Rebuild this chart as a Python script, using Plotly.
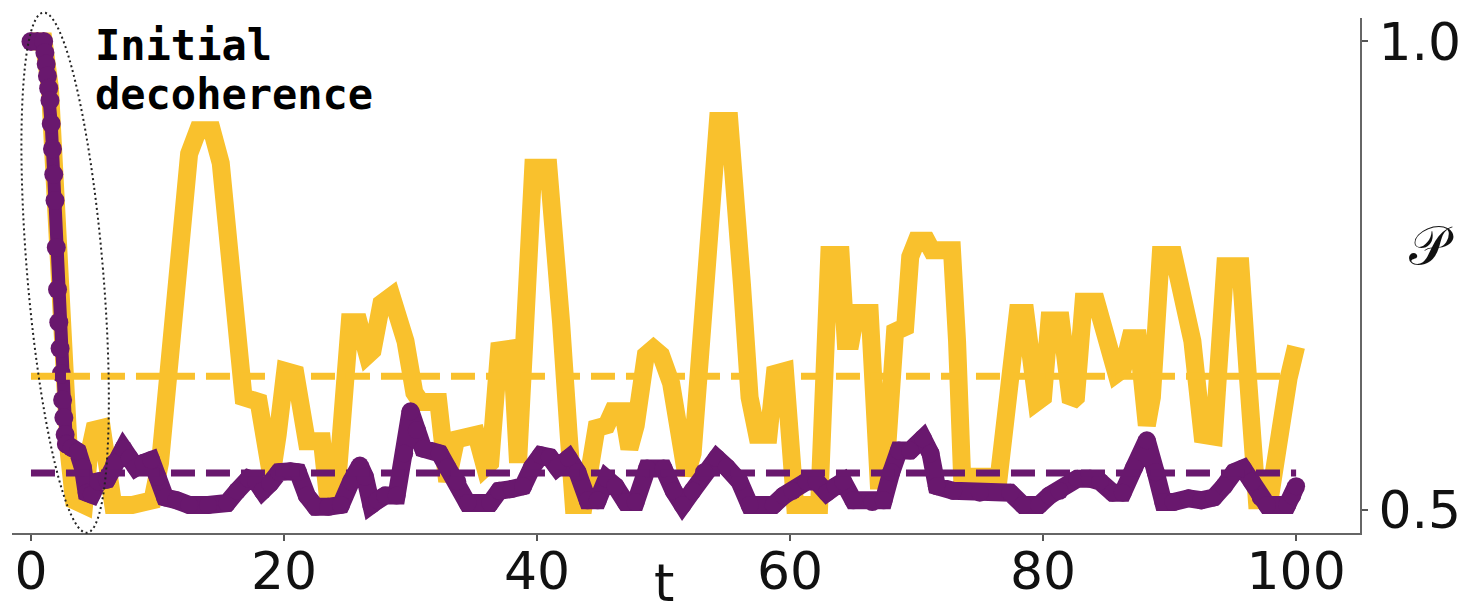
import math
import plotly.graph_objects as go

# ---- data: P(t) for the two traces -------------------------------------
t_gold = [0, 1.0, 1.5, 2.0, 2.5, 3.0, 3.4, 4.2, 4.6, 5.0, 5.6, 6.0, 6.5, 8.0, 9.6,
          10.2, 11.0, 11.8, 12.5, 13.2, 14.3, 15.0, 15.6, 16.2, 16.8, 18.0, 18.6, 19.0,
          19.5, 20.1, 20.9, 21.5, 21.8, 23.0, 23.5, 24.1, 24.6, 25.2, 25.9, 26.6, 27.0,
          27.7, 28.5, 29.0, 29.6, 30.3, 30.8, 32.2, 32.9, 33.6, 35.2, 35.9, 36.3, 37.0,
          38.0, 38.5, 39.0, 39.7, 40.9, 41.4, 41.9, 42.5, 42.9, 43.7, 44.2, 44.7, 45.5,
          46.0, 46.8, 47.3, 47.8, 48.6, 49.2, 49.8, 50.6, 51.2, 51.8, 52.3, 53.2, 54.0,
          54.3, 55.2, 55.6, 56.2, 56.8, 57.4, 58.3, 58.8, 59.6, 60.0, 60.4, 62.3, 62.8,
          63.1, 64.0, 64.4, 64.8, 65.2, 66.3, 66.8, 67.0, 67.5, 67.9, 68.3, 69.1, 69.5,
          70.0, 70.8, 71.2, 72.8, 73.2, 73.6, 76.5, 77.5, 78.0, 78.6, 79.5, 80.0, 80.5,
          81.4, 82.2, 82.6, 83.2, 84.2, 85.0, 85.8, 86.3, 86.9, 87.5, 88.2, 88.6, 89.3,
          90.3, 91.2, 91.8, 92.6, 93.5, 94.4, 95.6, 96.2, 96.9, 97.9, 98.6, 99.4, 100]
p_gold = [1.0, 1.0, 0.95, 0.8, 0.65, 0.56, 0.51, 0.505, 0.56, 0.585, 0.587, 0.55, 0.505, 0.505, 0.51,
          0.55, 0.68, 0.81, 0.88, 0.905, 0.905, 0.87, 0.78, 0.69, 0.62, 0.615, 0.55, 0.535,
          0.58, 0.648, 0.645, 0.58, 0.573, 0.573, 0.51, 0.51, 0.6, 0.70, 0.70, 0.665, 0.67,
          0.72, 0.728, 0.71, 0.68, 0.625, 0.615, 0.615, 0.53, 0.575, 0.58, 0.545, 0.55, 0.67,
          0.672, 0.55, 0.70, 0.865, 0.865, 0.80, 0.70, 0.58, 0.505, 0.505, 0.56, 0.587, 0.59,
          0.605, 0.605, 0.565, 0.59, 0.665, 0.672, 0.665, 0.635, 0.59, 0.537, 0.56, 0.75, 0.9,
          0.915, 0.915, 0.86, 0.74, 0.62, 0.58, 0.58, 0.645, 0.648, 0.56, 0.505, 0.505, 0.7,
          0.772, 0.772, 0.68, 0.68, 0.71, 0.71, 0.6, 0.531, 0.531, 0.66, 0.69, 0.695, 0.77,
          0.787, 0.787, 0.777, 0.777, 0.68, 0.535, 0.535, 0.68, 0.71, 0.71, 0.615, 0.62, 0.702,
          0.702, 0.615, 0.62, 0.722, 0.722, 0.68, 0.645, 0.65, 0.683, 0.683, 0.59, 0.62, 0.772,
          0.772, 0.72, 0.68, 0.58, 0.578, 0.76, 0.76, 0.64, 0.51, 0.51, 0.58, 0.64, 0.674]

t_plum = [0, 0.5, 1.0, 1.1, 1.2, 1.3, 1.4, 1.5, 1.6, 1.7, 1.8, 1.9, 2.0, 2.1, 2.2, 2.3,
          2.4, 2.5, 2.6, 2.7, 2.8,
          3.2, 3.7, 4.1, 4.4, 4.8, 5.3, 6.0, 6.6, 7.3, 7.8, 8.3, 8.9, 9.5, 10.0, 10.6,
          11.5, 12.5, 14.0, 15.5, 16.3, 17.2, 17.8, 18.3, 18.9, 19.6, 20.5, 21.1, 21.8,
          22.5, 23.5, 24.5, 25.3, 26.0, 26.4, 26.9, 27.4, 28.0, 28.9, 29.5, 30.0, 30.5,
          31.0, 32.3, 32.9, 33.7, 34.5, 36.3, 37.0, 38.0, 38.9, 39.6, 40.3, 41.0, 41.6,
          42.5, 43.2, 44.0, 44.8, 45.5, 46.2, 47.0, 47.8, 48.7, 50.0, 50.8, 51.5, 52.3,
          53.2, 54.2, 55.0, 56.0, 56.8, 58.7, 59.5, 60.2, 61.3, 62.1, 62.9, 63.6, 64.2,
          65.0, 66.5, 67.4, 68.0, 68.6, 69.5, 70.5, 71.1, 71.6, 72.9, 75.0, 77.4, 78.4,
          79.7, 80.5, 81.3, 82.7, 83.7, 84.5, 85.5, 86.3, 87.2, 88.2, 88.9, 89.5, 90.3,
          91.5, 92.5, 93.5, 94.3, 95.1, 95.8, 96.5, 97.2, 97.7, 99.3, 99.7, 100]
p_plum = [1.0, 1.0, 1.0, 0.988, 0.976, 0.963, 0.95, 0.937, 0.912, 0.885, 0.858, 0.83, 0.78,
          0.735, 0.70, 0.672, 0.645, 0.617, 0.598, 0.58, 0.57,
          0.566, 0.562, 0.545, 0.518, 0.516, 0.53, 0.532, 0.55, 0.565, 0.555, 0.545, 0.55,
          0.553, 0.535, 0.513, 0.51, 0.505, 0.505, 0.507, 0.52, 0.533, 0.53, 0.52, 0.528,
          0.54, 0.541, 0.54, 0.515, 0.503, 0.503, 0.505, 0.53, 0.547, 0.535, 0.505, 0.51,
          0.515, 0.515, 0.56, 0.605, 0.585, 0.565, 0.56, 0.545, 0.53, 0.507, 0.507, 0.52,
          0.522, 0.525, 0.545, 0.558, 0.556, 0.545, 0.555, 0.54, 0.51, 0.51, 0.533, 0.525,
          0.508, 0.508, 0.544, 0.544, 0.52, 0.505, 0.52, 0.54, 0.555, 0.545, 0.53, 0.505,
          0.505, 0.515, 0.52, 0.53, 0.53, 0.518, 0.525, 0.53, 0.51, 0.508, 0.51, 0.54, 0.563,
          0.563, 0.576, 0.56, 0.525, 0.52, 0.518, 0.518, 0.505, 0.505, 0.515, 0.52, 0.533,
          0.533, 0.53, 0.518, 0.518, 0.545, 0.574, 0.54, 0.508, 0.508, 0.512, 0.51, 0.513,
          0.525, 0.54, 0.544, 0.53, 0.513, 0.505, 0.505, 0.515, 0.525]

# long-time averages
p_gold_mean = 0.6425
p_plum_mean = 0.539

x_ticks = [0, 20, 40, 60, 80, 100]
y_ticks = [0.5, 1.0]
y_tick_text = ["0.5", "1.0"]

# ---- styling / layout constants ----------------------------------------
GOLD = "#F9C12D"
PLUM = "#69186E"
W, H = 1468, 604
M = dict(l=12, r=108, t=18, b=71)
X_RANGE = [-1.5, 105.05]
Y_RANGE = [0.475, 1.025]
TICK_FONT = dict(family="DejaVu Sans", size=52, color="#111111")

fig = go.Figure()

fig.add_trace(go.Scatter(x=t_gold, y=p_gold, mode="lines",
                         line=dict(color=GOLD, width=18), hoverinfo="skip"))

# the fast initial drop is sampled densely, drawn as beads
n_dense = t_plum.index(2.8) + 1
fig.add_trace(go.Scatter(x=t_plum[:n_dense], y=p_plum[:n_dense], mode="lines+markers",
                         line=dict(color=PLUM, width=13),
                         marker=dict(color=PLUM, size=19), hoverinfo="skip"))
fig.add_trace(go.Scatter(x=t_plum[n_dense - 1:], y=p_plum[n_dense - 1:], mode="lines+markers",
                         line=dict(color=PLUM, width=18),
                         marker=dict(color=PLUM, size=18), hoverinfo="skip"))

for level, col in ((p_gold_mean, GOLD), (p_plum_mean, PLUM)):
    fig.add_trace(go.Scatter(x=[x_ticks[0], x_ticks[-1]], y=[level, level], mode="lines",
                             line=dict(color=col, width=7, dash="24px,11px"),
                             hoverinfo="skip"))

# dotted ellipse around the initial decoherence
px_per_t = (W - M["l"] - M["r"]) / (X_RANGE[1] - X_RANGE[0])
px_per_p = (H - M["t"] - M["b"]) / (Y_RANGE[1] - Y_RANGE[0])
e_center = (2.7, 0.753)          # (t, P)
e_half_px = (38.0, 261.0)        # minor, major half-axes in pixels
e_tilt = math.radians(4.8)
pts = []
for k in range(121):
    th = 2 * math.pi * k / 120
    u, v = e_half_px[0] * math.cos(th), e_half_px[1] * math.sin(th)
    dx = u * math.cos(e_tilt) - v * math.sin(e_tilt)
    dy = u * math.sin(e_tilt) + v * math.cos(e_tilt)
    tx = e_center[0] + dx / px_per_t
    py = e_center[1] + dy / px_per_p
    xp = (tx - X_RANGE[0]) / (X_RANGE[1] - X_RANGE[0])
    yp = (py - Y_RANGE[0]) / (Y_RANGE[1] - Y_RANGE[0])
    pts.append(f"{xp:.5f},{yp:.5f}")
fig.add_shape(type="path", xref="paper", yref="paper",
              path="M " + " L ".join(pts) + " Z",
              line=dict(color="#222222", width=2, dash="2px,3px"))

TITLE_FONT = dict(family="DejaVu Sans Mono", size=42, color="#000000")
fig.add_annotation(text="<b>Initial</b>", xref="paper", yref="paper",
                   x=0.060, y=0.946, xanchor="left", yanchor="middle", showarrow=False,
                   font=TITLE_FONT)
fig.add_annotation(text="<b>decoherence</b>", xref="paper", yref="paper",
                   x=0.060, y=0.852, xanchor="left", yanchor="middle", showarrow=False,
                   font=TITLE_FONT)

fig.add_annotation(text="t", xref="x", yref="paper", x=50, y=-0.097,
                   xanchor="center", yanchor="middle", showarrow=False, font=TICK_FONT)
fig.add_annotation(text="𝒫", xref="paper", yref="paper", x=1.0534, y=0.559,
                   xanchor="center", yanchor="middle", showarrow=False,
                   font=dict(family="DejaVu Serif", size=54, color="#111111"))

fig.update_layout(
    width=W, height=H, margin=M, showlegend=False,
    paper_bgcolor="white", plot_bgcolor="white",
    xaxis=dict(range=X_RANGE, tickvals=x_ticks, ticks="outside", ticklen=6,
               tickwidth=2, tickcolor="#555555", showline=True, linecolor="#666666",
               linewidth=2, showgrid=False, zeroline=False, tickfont=TICK_FONT,
               automargin=False, ticklabelstandoff=-14),
    yaxis=dict(range=Y_RANGE, side="right", tickvals=y_ticks, ticktext=y_tick_text,
               ticks="outside", ticklen=6, tickwidth=2, tickcolor="#555555",
               showline=True, linecolor="#666666", linewidth=2, showgrid=False,
               zeroline=False, tickfont=TICK_FONT, automargin=False),
)

fig.write_html("out.html")
